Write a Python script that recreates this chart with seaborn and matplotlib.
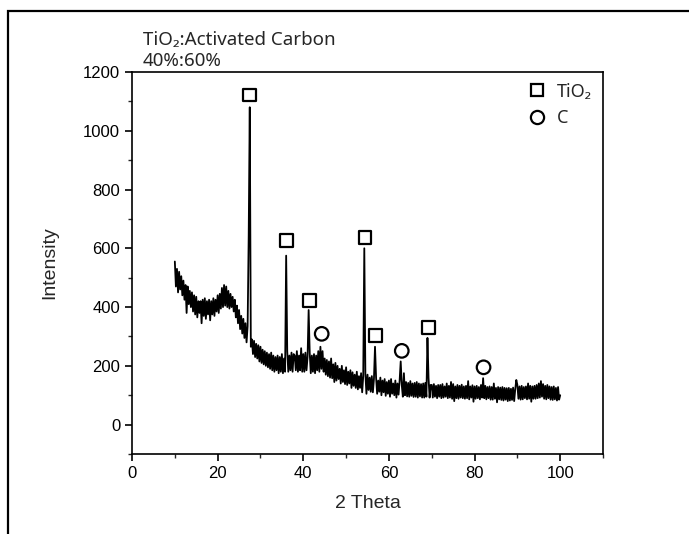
import numpy as np
import pandas as pd
import seaborn as sns
import matplotlib
matplotlib.use("Agg")
from matplotlib import pyplot as plt
from matplotlib.lines import Line2D
from matplotlib.patches import Rectangle
from matplotlib.ticker import AutoMinorLocator

# XRD scan, 10-100 deg, one reading every 0.25 deg
intensity = [
    555, 470, 530, 450, 520, 460, 505, 440,
    490, 425, 475, 380, 470, 410, 455, 400,
    450, 385, 440, 375, 435, 365, 420, 380,
    420, 345, 425, 370, 430, 360, 420, 375,
    425, 355, 420, 375, 430, 370, 425, 385,
    440, 380, 445, 395, 465, 400, 475, 405,
    470, 400, 455, 395, 445, 400, 435, 385,
    425, 365, 405, 345, 390, 325, 370, 310,
    360, 295, 345, 280, 335, 640, 1080, 265,
    290, 240, 285, 230, 275, 225, 270, 215,
    265, 210, 255, 205, 250, 200, 245, 195,
    240, 190, 245, 185, 235, 180, 230, 185,
    235, 175, 230, 180, 240, 175, 225, 180,
    575, 250, 180, 235, 185, 245, 180, 240,
    235, 185, 250, 180, 235, 185, 260, 180,
    240, 180, 245, 185, 230, 390, 245, 175,
    235, 180, 240, 175, 235, 185, 250, 180,
    265, 190, 250, 180, 225, 170, 220, 165,
    215, 160, 225, 158, 205, 145, 210, 150,
    200, 155, 190, 140, 200, 145, 185, 138,
    195, 135, 180, 140, 185, 125, 178, 132,
    170, 125, 180, 120, 165, 125, 175, 110,
    165, 600, 172, 105, 170, 118, 160, 112,
    165, 110, 155, 265, 160, 105, 150, 112,
    160, 100, 150, 110, 155, 98, 145, 105,
    150, 95, 155, 105, 140, 100, 150, 92,
    140, 102, 150, 215, 135, 95, 175, 100,
    145, 96, 142, 95, 148, 98, 140, 94,
    142, 95, 145, 92, 140, 96, 138, 92,
    140, 92, 142, 95, 295, 160, 92, 135,
    135, 92, 138, 95, 132, 90, 135, 95,
    135, 90, 138, 92, 130, 95, 140, 90,
    132, 92, 145, 88, 138, 80, 130, 90,
    135, 88, 132, 92, 136, 90, 130, 88,
    132, 90, 148, 86, 130, 92, 134, 78,
    130, 88, 132, 90, 128, 86, 135, 92,
    158, 90, 132, 86, 128, 90, 130, 85,
    128, 85, 140, 88, 125, 76, 128, 86,
    126, 84, 128, 82, 125, 85, 124, 80,
    125, 82, 122, 84, 126, 80, 120, 152,
    135, 88, 130, 85, 132, 86, 128, 90,
    130, 86, 140, 88, 132, 78, 130, 88,
    132, 88, 135, 90, 140, 92, 148, 95,
    138, 88, 132, 86, 135, 90, 130, 85,
    128, 84, 130, 86, 125, 82, 128, 85,
    100,
]
two_theta = np.linspace(10, 100, len(intensity))

# peak labels
tio2_theta = [27.4, 36.1, 41.4, 54.4, 56.8, 69.2]
tio2_y = [1122, 627, 422, 637, 303, 330]
carbon_theta = [44.3, 63.0, 82.1]
carbon_y = [309, 251, 195]

sns.set_style("ticks")
plt.rcParams["font.family"] = ["Liberation Sans", "DejaVu Sans"]
label_font = ["Noto Sans", "DejaVu Sans"]

fig = plt.figure(figsize=(6.89, 5.34), dpi=100)
ax = fig.add_axes([0.1916, 0.1498, 0.6836, 0.7154])

df = pd.DataFrame({"two_theta": two_theta, "intensity": intensity})
sns.lineplot(data=df, x="two_theta", y="intensity", ax=ax, color="black",
             linewidth=1.3, estimator=None, sort=False)

ax.scatter(tio2_theta, tio2_y, marker="s", s=85, facecolors="none",
           edgecolors="black", linewidths=1.6, zorder=3)
ax.scatter(carbon_theta, carbon_y, marker="o", s=95, facecolors="none",
           edgecolors="black", linewidths=1.6, zorder=3)

ax.set_xlim(0, 110)
ax.set_ylim(-100, 1200)
ax.set_xticks([0, 20, 40, 60, 80, 100])
ax.set_yticks([0, 200, 400, 600, 800, 1000, 1200])
ax.xaxis.set_minor_locator(AutoMinorLocator(2))
ax.yaxis.set_minor_locator(AutoMinorLocator(2))
ax.tick_params(which="major", direction="out", length=5, width=1.2,
               labelsize=12, colors="black")
ax.tick_params(which="minor", direction="out", length=3, width=1.0)
for s in ax.spines.values():
    s.set_linewidth(1.2)
    s.set_color("black")

ax.set_xlabel("2 Theta", fontsize=14, labelpad=10)
ax.set_ylabel("Intensity", fontsize=14, labelpad=18)

handles = [
    Line2D([], [], marker="s", linestyle="none", markersize=9,
           markerfacecolor="none", markeredgecolor="black", markeredgewidth=1.6),
    Line2D([], [], marker="o", linestyle="none", markersize=9.5,
           markerfacecolor="none", markeredgecolor="black", markeredgewidth=1.6),
]
ax.legend(handles, ["TiO\u2082", "C"], loc="upper right", frameon=False,
          prop={"family": label_font, "size": 13}, handlelength=1.0,
          handletextpad=0.6, labelspacing=0.45, borderaxespad=0.2)

fig.text(0.207, 0.916, "TiO\u2082:Activated Carbon", fontsize=13.5,
         family=label_font, va="baseline")
fig.text(0.207, 0.877, "40%:60%", fontsize=13.5, family=label_font,
         va="baseline")

# outer frame around the figure
fig.patches.append(Rectangle((8 / 689, -0.05), 1.0, 1.05 - 11 / 534,
                             transform=fig.transFigure, fill=False,
                             edgecolor="black", linewidth=1.6))

fig.savefig("out.png", dpi=100, facecolor="white")
plt.close(fig)
